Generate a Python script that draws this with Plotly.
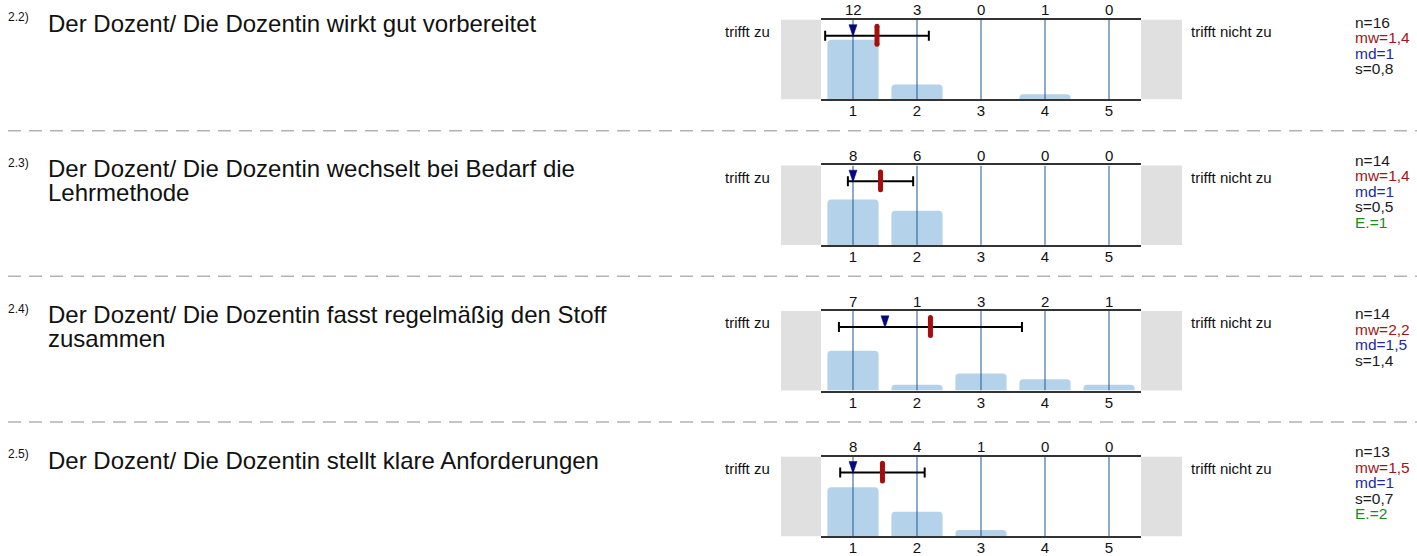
import plotly.graph_objects as go

# ---------------- data ----------------
item_numbers = ["2.2)", "2.3)", "2.4)", "2.5)"]
item_titles = [
    ["Der Dozent/ Die Dozentin wirkt gut vorbereitet"],
    ["Der Dozent/ Die Dozentin wechselt bei Bedarf die", "Lehrmethode"],
    ["Der Dozent/ Die Dozentin fasst regelmäßig den Stoff", "zusammen"],
    ["Der Dozent/ Die Dozentin stellt klare Anforderungen"],
]
scale_points = [1, 2, 3, 4, 5]
counts_2_2 = [12, 3, 0, 1, 0]
counts_2_3 = [8, 6, 0, 0, 0]
counts_2_4 = [7, 1, 3, 2, 1]
counts_2_5 = [8, 4, 1, 0, 0]
all_counts = [counts_2_2, counts_2_3, counts_2_4, counts_2_5]
n_values = [16, 14, 14, 13]
mean_values = [1.375, 1.43, 2.21, 1.46]
median_values = [1, 1, 1.5, 1]
std_values = [0.81, 0.51, 1.43, 0.66]
mw_labels = ["1,4", "1,4", "2,2", "1,5"]
md_labels = ["1", "1", "1,5", "1"]
s_labels = ["0,8", "0,5", "1,4", "0,7"]
e_labels = [None, "1", None, "2"]
left_pole = "trifft zu"
right_pole = "trifft nicht zu"

# ---------------- layout constants ----------------
W, H = 1417, 556
FONT = "Liberation Sans, Arial, sans-serif"
PLOT_X0, PLOT_X1 = 821, 1141
ROW_TOP0, ROW_STEP, PLOT_H = 20, 146.67, 80
BAR_COLOR = "#b4d3ea"
GRID_COLOR = "#1f5596"
GRAY_BOX = "#e0e0e0"
MEAN_COLOR = "#a50e0e"
MED_COLOR = "#07077e"


def px(x):
    return x / W


def py(y):
    return 1 - y / H


fig = go.Figure()
annotations = []
shapes = []

for i in range(4):
    T = ROW_TOP0 + ROW_STEP * i
    xa = "x" if i == 0 else f"x{i+1}"
    ya = "y" if i == 0 else f"y{i+1}"
    counts = all_counts[i]
    n = n_values[i]
    shares = [c / n for c in counts]

    # bars (share of answers)
    fig.add_trace(go.Bar(
        x=scale_points, y=shares, width=0.8, xaxis=xa, yaxis=ya,
        marker=dict(color=BAR_COLOR, cornerradius=4, line=dict(width=0)),
        showlegend=False, hoverinfo="skip",
    ))
    # vertical scale lines above bars
    gx, gy = [], []
    for s in scale_points:
        gx += [s, s, None]
        gy += [0, 1, None]
    fig.add_trace(go.Scatter(
        x=gx, y=gy, mode="lines", xaxis=xa, yaxis=ya,
        line=dict(color=GRID_COLOR, width=1), showlegend=False, hoverinfo="skip",
    ))
    # standard deviation bar
    fig.add_trace(go.Scatter(
        x=[mean_values[i]], y=[0.8], mode="markers", xaxis=xa, yaxis=ya,
        marker=dict(size=2, color="rgba(0,0,0,0)"),
        error_x=dict(type="data", array=[std_values[i]], thickness=2, width=5, color="black"),
        showlegend=False, hoverinfo="skip",
    ))
    # mean marker (rounded pill)
    m = mean_values[i]
    fig.add_trace(go.Scatter(
        x=[m, m], y=[0.694, 0.919], mode="lines+markers", xaxis=xa, yaxis=ya,
        line=dict(color=MEAN_COLOR, width=5),
        marker=dict(color=MEAN_COLOR, size=5, symbol="circle"),
        showlegend=False, hoverinfo="skip",
    ))
    # median marker (narrow down-triangle)
    md = median_values[i]
    fig.add_trace(go.Scatter(
        x=[md - 0.0625, md + 0.0625, md, md - 0.0625], y=[0.94, 0.94, 0.79, 0.94],
        mode="lines", fill="toself", fillcolor=MED_COLOR, xaxis=xa, yaxis=ya,
        line=dict(color=MED_COLOR, width=0.5), showlegend=False, hoverinfo="skip",
    ))

    dom_y = [py(T + PLOT_H), py(T)]
    fig.layout[("xaxis" if i == 0 else f"xaxis{i+1}")] = dict(
        domain=[px(PLOT_X0), px(PLOT_X1)], anchor=ya, range=[0.5, 5.5],
        tickvals=scale_points, ticktext=[str(s) for s in scale_points],
        ticks="", ticklen=0, ticklabelstandoff=-3, showgrid=False, zeroline=False,
        showline=True, mirror=True, linecolor="#333333", linewidth=2,
        tickfont=dict(size=15, color="#111", family=FONT), fixedrange=True,
    )
    fig.layout[("yaxis" if i == 0 else f"yaxis{i+1}")] = dict(
        domain=dom_y, anchor=xa, range=[0, 1], visible=False, fixedrange=True,
    )

    # counts above the scale
    for s, c in zip(scale_points, counts):
        annotations.append(dict(
            x=s, y=1, xref=xa, yref=ya, text=str(c), showarrow=False,
            xanchor="center", yanchor="middle", yshift=10,
            font=dict(size=15, color="#111", family=FONT),
        ))

    # gray side boxes
    shapes.append(dict(type="rect", xref="paper", yref="paper",
                       x0=px(781), x1=px(PLOT_X0), y0=py(T + PLOT_H), y1=py(T),
                       fillcolor=GRAY_BOX, line=dict(width=0), layer="below"))
    shapes.append(dict(type="rect", xref="paper", yref="paper",
                       x0=px(PLOT_X1), x1=px(1182), y0=py(T + PLOT_H), y1=py(T),
                       fillcolor=GRAY_BOX, line=dict(width=0), layer="below"))

    # pole labels
    annotations.append(dict(x=px(772), y=py(T + 12), xref="paper", yref="paper",
                            text=left_pole, showarrow=False, xanchor="right", yanchor="middle",
                            font=dict(size=15, color="#111", family=FONT)))
    annotations.append(dict(x=px(1189), y=py(T + 12), xref="paper", yref="paper",
                            text=right_pole, showarrow=False, xanchor="left", yanchor="middle",
                            font=dict(size=15, color="#111", family=FONT)))

    # item number and title
    annotations.append(dict(x=px(6), y=py(T - 2.5), xref="paper", yref="paper",
                            text=item_numbers[i], showarrow=False, xanchor="left", yanchor="middle",
                            font=dict(size=12, color="#111", family=FONT)))
    for k, line in enumerate(item_titles[i]):
        annotations.append(dict(x=px(46), y=py(T + 3.5 + 24 * k), xref="paper", yref="paper",
                                text=line, showarrow=False, xanchor="left", yanchor="middle",
                                font=dict(size=24, color="#111", family=FONT)))

    # statistics block
    stats = [(f"n={n}", "#1a1a1a"), (f"mw={mw_labels[i]}", "#a31515"),
             (f"md={md_labels[i]}", "#1c2a9c"), (f"s={s_labels[i]}", "#1a1a1a")]
    if e_labels[i] is not None:
        stats.append((f"E.={e_labels[i]}", "#1a8c1a"))
    nl = len(stats)
    for k, (txt, col) in enumerate(stats):
        yc = T + 26 + (k - (nl - 1) / 2) * 15.6
        annotations.append(dict(x=px(1353), y=py(yc), xref="paper", yref="paper",
                                text=txt, showarrow=False, xanchor="left", yanchor="middle",
                                font=dict(size=15.5, color=col, family=FONT)))

# dashed separators
for j in range(3):
    ys = 131.7 + ROW_STEP * j
    shapes.append(dict(type="line", xref="paper", yref="paper",
                       x0=px(8), x1=1, y0=py(ys), y1=py(ys),
                       line=dict(color="#b3b3b3", width=1.5, dash="13px,8px")))

fig.update_layout(
    width=W, height=H, margin=dict(l=0, r=0, t=0, b=0),
    paper_bgcolor="white", plot_bgcolor="white",
    barmode="overlay", showlegend=False,
    annotations=annotations, shapes=shapes,
    font=dict(family=FONT),
)

fig.write_html(
    "out.html",
    config={"displayModeBar": False, "staticPlot": True},
    post_script="document.body.style.margin='0';document.body.style.overflow='hidden';",
)
